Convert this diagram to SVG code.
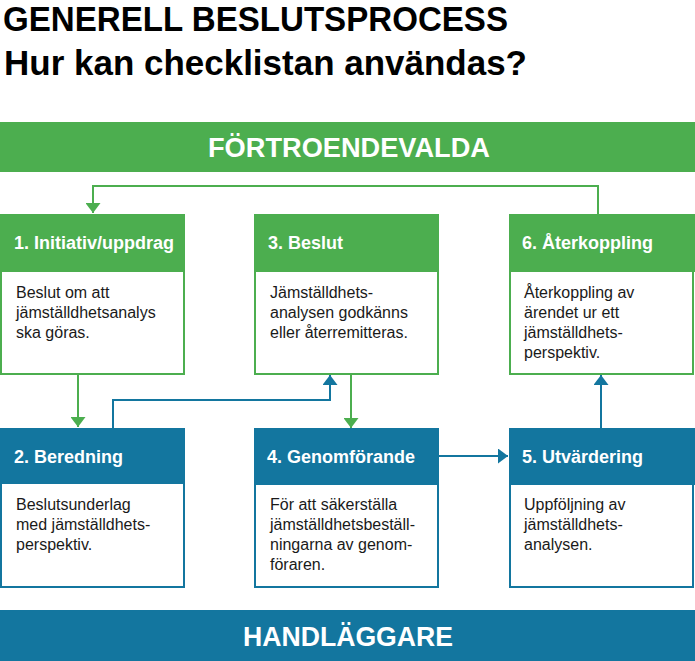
<svg xmlns="http://www.w3.org/2000/svg" width="695" height="661" viewBox="0 0 695 661">
<style>
.title{font-family:"Liberation Sans",Arial,sans-serif;font-weight:bold;font-size:35px;fill:#000}
.banner{font-family:"Liberation Sans",Arial,sans-serif;font-weight:bold;font-size:27px;fill:#fff}
.hdr{font-family:"Liberation Sans",Arial,sans-serif;font-weight:bold;font-size:18px;fill:#fff}
.body{font-family:"Liberation Sans",Arial,sans-serif;font-size:16px;fill:#1a1a1a}
.gbox{fill:#fff;stroke:#4cae4f;stroke-width:2}
.bbox{fill:#fff;stroke:#13769f;stroke-width:2}
.gfill{fill:#4cae4f}
.bfill{fill:#13769f}
.gline{fill:none;stroke:#4cae4f;stroke-width:2}
.bline{fill:none;stroke:#13769f;stroke-width:2}
</style>
<defs>
<marker id="ag" viewBox="0 0 10 10" refX="10" refY="5" markerWidth="10" markerHeight="15" markerUnits="userSpaceOnUse" orient="auto" preserveAspectRatio="none"><path d="M0,0 L10,5 L0,10 z" fill="#4cae4f"/></marker>
<marker id="ab" viewBox="0 0 10 10" refX="10" refY="5" markerWidth="10" markerHeight="15" markerUnits="userSpaceOnUse" orient="auto" preserveAspectRatio="none"><path d="M0,0 L10,5 L0,10 z" fill="#13769f"/></marker>
</defs>
<rect width="695" height="661" fill="#fff"/>
<g id="title">
<text class="title" x="3" y="31" textLength="505" lengthAdjust="spacingAndGlyphs">GENERELL BESLUTSPROCESS</text>
<text class="title" x="4" y="75" textLength="523" lengthAdjust="spacingAndGlyphs">Hur kan checklistan användas?</text>
</g>
<g id="banner-fortroendevalda">
<rect class="gfill" x="0" y="122" width="695" height="50"/>
<text class="banner" x="208" y="157" textLength="282" lengthAdjust="spacingAndGlyphs">FÖRTROENDEVALDA</text>
</g>
<g id="banner-handlaggare">
<rect class="bfill" x="0" y="610" width="695" height="51"/>
<text class="banner" x="243" y="646" textLength="210" lengthAdjust="spacingAndGlyphs">HANDLÄGGARE</text>
</g>
<g id="connectors">
<polyline class="gline" points="598,214 598,186 93,186 93,213" marker-end="url(#ag)"/>
<line class="gline" x1="78" y1="374" x2="78" y2="427" marker-end="url(#ag)"/>
<polyline class="bline" points="113,428 113,400 330,400 330,375" marker-end="url(#ab)"/>
<line class="gline" x1="351" y1="374" x2="351" y2="428" marker-end="url(#ag)"/>
<line class="bline" x1="439" y1="456" x2="508" y2="456" marker-end="url(#ab)"/>
<line class="bline" x1="601" y1="429" x2="601" y2="375" marker-end="url(#ab)"/>
</g>
<g id="node1">
<rect class="gbox" x="1" y="215" width="183" height="159"/>
<rect class="gfill" x="0" y="214" width="185" height="58"/>
<text class="hdr" x="14" y="249">1. Initiativ/uppdrag</text>
<text class="body" x="16" y="298">Beslut om att</text>
<text class="body" x="16" y="318">jämställdhetsanalys</text>
<text class="body" x="16" y="338">ska göras.</text>
</g>
<g id="node3">
<rect class="gbox" x="255" y="215" width="183" height="159"/>
<rect class="gfill" x="254" y="214" width="185" height="58"/>
<text class="hdr" x="268" y="249">3. Beslut</text>
<text class="body" x="270" y="298">Jämställdhets-</text>
<text class="body" x="270" y="318">analysen godkänns</text>
<text class="body" x="270" y="338">eller återremitteras.</text>
</g>
<g id="node6">
<rect class="gbox" x="510" y="215" width="183" height="159"/>
<rect class="gfill" x="509" y="214" width="186" height="58"/>
<text class="hdr" x="522" y="249">6. Återkoppling</text>
<text class="body" x="524" y="298">Återkoppling av</text>
<text class="body" x="524" y="318">ärendet ur ett</text>
<text class="body" x="524" y="338">jämställdhets-</text>
<text class="body" x="524" y="358">perspektiv.</text>
</g>
<g id="node2">
<rect class="bbox" x="1" y="429" width="183" height="158"/>
<rect class="bfill" x="0" y="428" width="185" height="56"/>
<text class="hdr" x="14" y="463">2. Beredning</text>
<text class="body" x="16" y="510">Beslutsunderlag</text>
<text class="body" x="16" y="530">med jämställdhets-</text>
<text class="body" x="16" y="550">perspektiv.</text>
</g>
<g id="node4">
<rect class="bbox" x="255" y="429" width="183" height="158"/>
<rect class="bfill" x="254" y="428" width="185" height="57"/>
<text class="hdr" x="267" y="463">4. Genomförande</text>
<text class="body" x="270" y="510">För att säkerställa</text>
<text class="body" x="270" y="530">jämställdhetsbeställ-</text>
<text class="body" x="270" y="550">ningarna av genom-</text>
<text class="body" x="270" y="570">föraren.</text>
</g>
<g id="node5">
<rect class="bbox" x="510" y="429" width="183" height="158"/>
<rect class="bfill" x="509" y="428" width="186" height="57"/>
<text class="hdr" x="522" y="463">5. Utvärdering</text>
<text class="body" x="524" y="510">Uppföljning av</text>
<text class="body" x="524" y="530">jämställdhets-</text>
<text class="body" x="524" y="550">analysen.</text>
</g>
</svg>
